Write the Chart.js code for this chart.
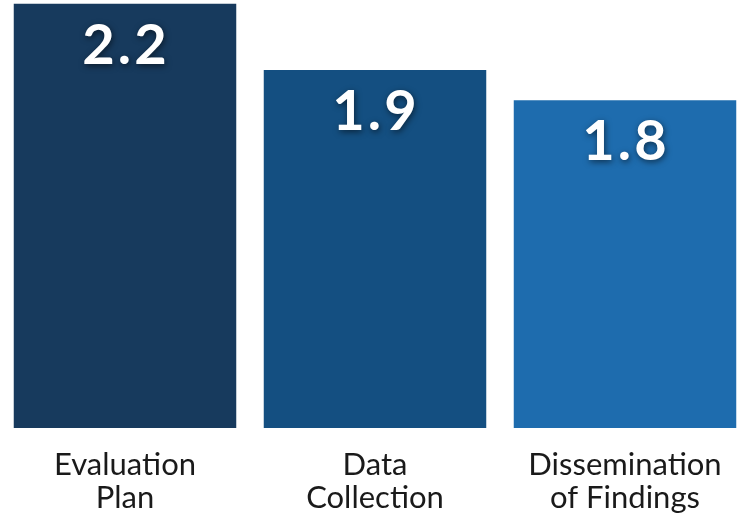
<!DOCTYPE html>
<html>
<head>
<meta charset="utf-8">
<script src="https://cdn.jsdelivr.net/npm/chart.js@4.4.1/dist/chart.umd.min.js"></script>
<style>
  html, body { margin: 0; padding: 0; background: #fff; overflow: hidden; }
  #wrap { width: 750px; height: 514px; }
</style>
</head>
<body>
<div id="wrap"><canvas id="chart"></canvas></div>
<script>
'use strict';

const categories = [['Evaluation', 'Plan'], ['Data', 'Collection'], ['Dissemination', 'of Findings']];
const scores = [2.24, 1.89, 1.73];
const scoreLabels = ['2.2', '1.9', '1.8'];
const barColors = ['#173A5D', '#144F81', '#1E6CAE'];

// white bold value printed inside the top of each bar
const valueLabels = {
  id: 'valueLabels',
  afterDatasetsDraw(chart) {
    const ctx = chart.ctx;
    const meta = chart.getDatasetMeta(0);
    ctx.save();
    ctx.font = 'bold 56px Lato, "Noto Sans", sans-serif';
    ctx.letterSpacing = '3px';
    ctx.fillStyle = '#fff';
    ctx.textAlign = 'center';
    ctx.textBaseline = 'middle';
    ctx.shadowColor = 'rgba(0,0,0,0.55)';
    ctx.shadowBlur = 6;
    ctx.shadowOffsetX = 1;
    ctx.shadowOffsetY = 2;
    meta.data.forEach((bar, i) => {
      ctx.fillText(scoreLabels[i], bar.x + 1, bar.y + 42);
    });
    ctx.restore();
  },
};

new Chart(document.getElementById('chart'), {
  type: 'bar',
  data: {
    labels: categories,
    datasets: [{
      data: scores,
      backgroundColor: barColors,
      borderWidth: 0,
      barPercentage: 0.89,
      categoryPercentage: 1,
    }],
  },
  options: {
    responsive: true,
    maintainAspectRatio: false,
    animation: false,
    layout: { padding: 0 },
    plugins: { legend: { display: false }, tooltip: { enabled: false } },
    scales: {
      y: { display: false, min: 0, max: 2.26 },
      x: {
        grid: { display: false, drawTicks: false },
        border: { display: false },
        afterFit(scale) { scale.height = 86; },
        ticks: {
          color: '#1a1a1a',
          padding: 20,
          maxRotation: 0,
          font: { family: 'Lato, "Noto Sans", sans-serif', size: 31, lineHeight: '33px' },
        },
      },
    },
  },
  plugins: [valueLabels],
});
</script>
</body>
</html>
